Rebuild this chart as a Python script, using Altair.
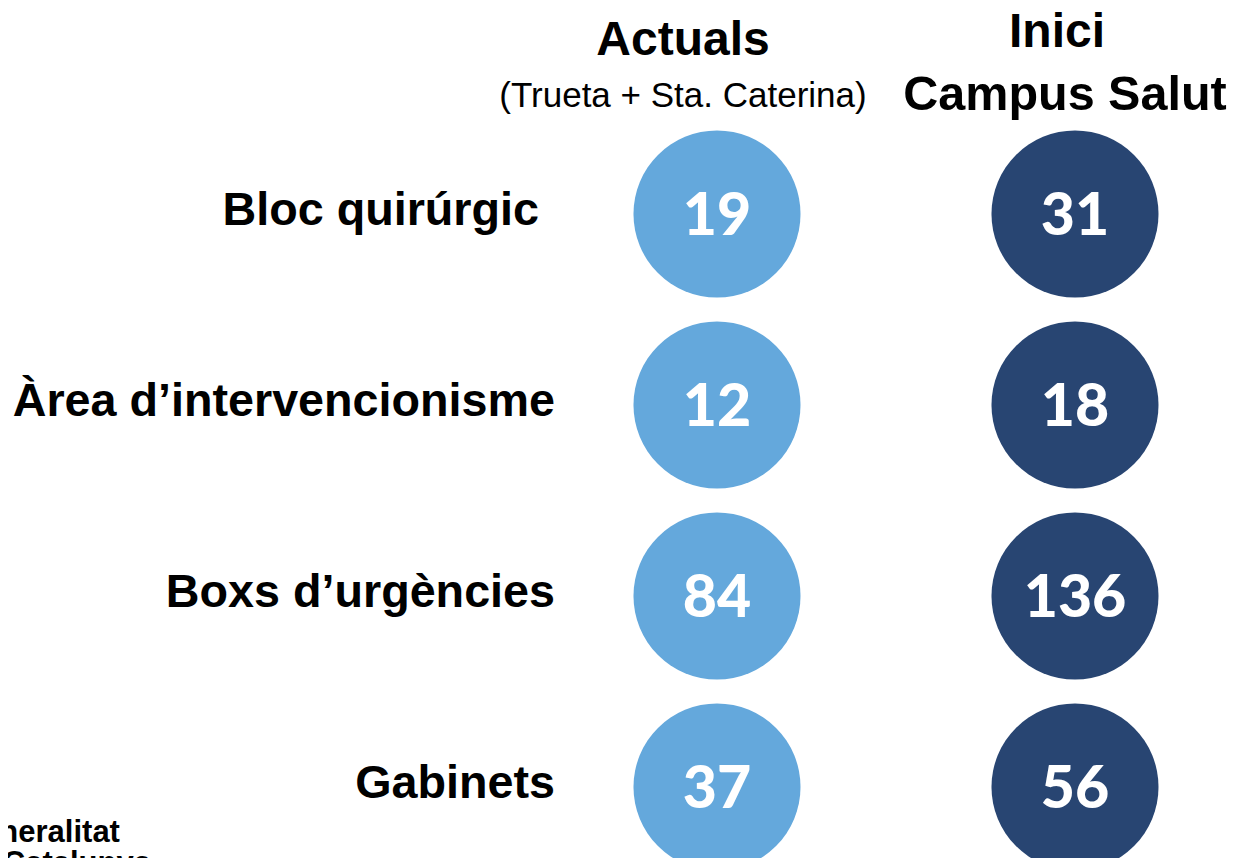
import altair as alt
import pandas as pd

rows = ["Bloc quirúrgic", "Àrea d’intervencionisme", "Boxs d’urgències", "Gabinets"]
columns = ["Actuals", "Inici Campus Salut"]
actuals = [19, 12, 84, 37]
campus = [31, 18, 136, 56]
colors = ["#64a8dc", "#284572"]

records = []
for r, a, c in zip(rows, actuals, campus):
    records.append({"row": r, "col": columns[0], "value": a})
    records.append({"row": r, "col": columns[1], "value": c})
df = pd.DataFrame(records)

W, H = 1219, 850
xscale = alt.Scale(type="point", domain=columns, range=[709, 1067], padding=0)
yscale = alt.Scale(type="point", domain=rows, range=[206, 779], padding=0)

base = alt.Chart(df)
circles = base.mark_circle(size=27900, opacity=1).encode(
    x=alt.X("col:N", scale=xscale, axis=None),
    y=alt.Y("row:N", scale=yscale, axis=None),
    color=alt.Color("col:N", scale=alt.Scale(domain=columns, range=colors), legend=None),
)
numbers = base.mark_text(
    font="Lato", fontWeight=900, fontSize=59, color="white",
    align="center", baseline="alphabetic", dy=21,
).encode(
    x=alt.X("col:N", scale=xscale, axis=None),
    y=alt.Y("row:N", scale=yscale, axis=None),
    text="value:Q",
)

def label_layer(names, xpos):
    return alt.Chart(pd.DataFrame({"row": names})).mark_text(
        font="Liberation Sans", fontWeight="bold", fontSize=46.7, color="black",
        align="right", baseline="alphabetic", dy=11,
    ).encode(
        x=alt.value(xpos),
        y=alt.Y("row:N", scale=yscale, axis=None),
        text="row:N",
    )

labels_first = label_layer(rows[:1], 531)
labels_rest = label_layer(rows[1:], 547)

def header(text, x, y, size, weight, align="center"):
    return alt.Chart(pd.DataFrame({"t": [text]})).mark_text(
        font="Liberation Sans", fontWeight=weight, fontSize=size, color="black",
        align=align, baseline="alphabetic",
    ).encode(x=alt.value(x), y=alt.value(y), text="t:N")

headers = [
    header("Actuals", 675, 47, 48, "bold"),
    header("(Trueta + Sta. Caterina)", 675, 99, 35, "normal"),
    header("Inici", 1049, 39, 48, "bold"),
    header("Campus Salut", 1057, 102, 48.5, "bold"),
    header("Generalitat", -50, 834, 31, "bold", "left"),
    header("de Catalunya", -50, 865, 31, "bold", "left"),
]

chart = alt.layer(circles, numbers, labels_first, labels_rest, *headers).properties(
    width=W, height=H, autosize=alt.AutoSizeParams(type="none"), padding=0,
).configure_view(stroke=None)

chart.save("out.html", embed_options={"renderer": "svg", "actions": False})
